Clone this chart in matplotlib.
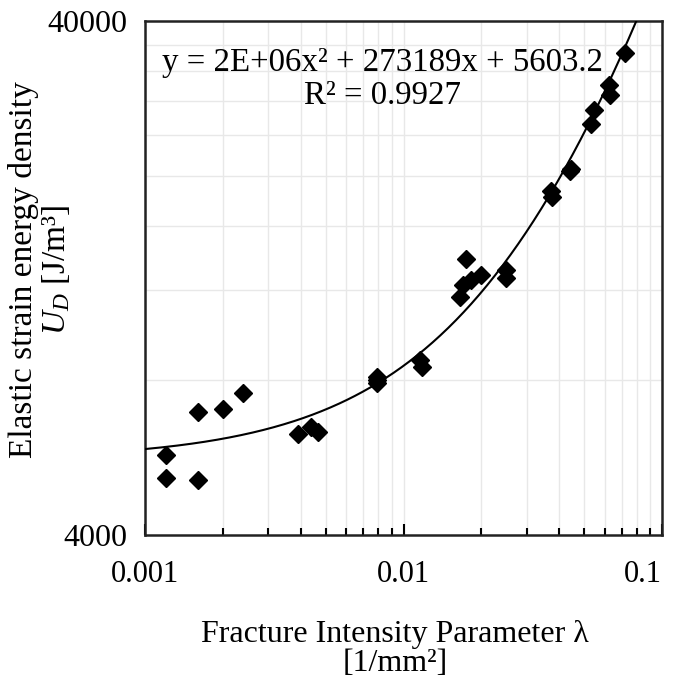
import numpy as np
import matplotlib
matplotlib.use("Agg")
import matplotlib.pyplot as plt
from matplotlib.ticker import FixedLocator, FixedFormatter, NullFormatter

plt.rcParams['font.family'] = ['Liberation Serif', 'DejaVu Serif']
plt.rcParams['mathtext.fontset'] = 'custom'
plt.rcParams['mathtext.rm'] = 'Liberation Serif'
plt.rcParams['mathtext.it'] = 'Liberation Serif:italic'

# Data
lam = [0.00121, 0.00121, 0.00160, 0.00160, 0.00200, 0.00240,
       0.00389, 0.00438, 0.00465, 0.00789, 0.00789, 0.00790,
       0.0116, 0.0118, 0.0165, 0.0170, 0.0175, 0.0183, 0.0200,
       0.0249, 0.0250, 0.0372, 0.0375, 0.0440, 0.0445,
       0.0530, 0.0546, 0.0624, 0.0628, 0.0722]
ud = [5725, 5155, 5115, 6950, 7020, 7545,
      6280, 6497, 6352, 8120, 7900, 8010,
      8780, 8500, 11630, 12270, 13760, 12520, 12810,
      13100, 12630, 18650, 18200, 20440, 20600,
      25270, 26840, 30050, 28700, 34650]

# Polynomial trendline coefficients (from chart label)
coef_a = 2.0e6
coef_b = 273189
coef_c = 5603.2

x_ticks = [0.001, 0.01, 0.1]
x_ticklabels = ["0.001", "0.01", "0.1"]
y_ticks = [4000, 40000]
y_ticklabels = ["4000", "40000"]
y_grid = [8000, 12000, 16000, 20000, 24000, 28000, 32000, 36000]

W = 685
fig = plt.figure(figsize=(6.85, 6.85), dpi=100)
ax = fig.add_axes([145/W, 1-535/W, (662-145)/W, (535-21)/W])
ax.set_xscale('log')
ax.set_yscale('log')
ax.set_xlim(0.001, 0.1)
ax.set_ylim(4000, 40000)

xc = np.logspace(-3, -1, 400)
yc = coef_a*xc**2 + coef_b*xc + coef_c
ax.plot(xc, yc, color='black', lw=1.5, zorder=3)
ax.plot(lam, ud, linestyle='none', marker='D', ms=9, color='black', zorder=4)

ax.xaxis.set_major_locator(FixedLocator(x_ticks))
ax.xaxis.set_major_formatter(FixedFormatter(x_ticklabels))
ax.xaxis.set_minor_formatter(NullFormatter())
ax.yaxis.set_major_locator(FixedLocator(y_ticks))
ax.yaxis.set_major_formatter(FixedFormatter(y_ticklabels))
ax.yaxis.set_minor_locator(FixedLocator(y_grid))
ax.yaxis.set_minor_formatter(NullFormatter())

ax.tick_params(axis='x', which='major', direction='in', length=8, width=1.5, labelsize=22, pad=18)
ax.tick_params(axis='x', which='minor', direction='in', length=5, width=1.5)
ax.tick_params(axis='y', which='both', length=0, labelsize=23, pad=13)

# Last x label sits inside the figure like in the reference
fig.canvas.draw()
xlabels = ax.get_xticklabels()
xlabels[-1].set_horizontalalignment('right')
xlabels[-1].set_x(0.1)

ax.grid(True, which='both', axis='x', color='#e8e8e8', lw=1)
ax.grid(True, which='minor', axis='y', color='#e8e8e8', lw=1)
ax.set_axisbelow(True)
for s in ax.spines.values():
    s.set_linewidth(1.8)
    s.set_color('#222222')

fig.text(395/W, 1-649/W, "Fracture Intensity Parameter λ\n[1/mm²]", fontsize=23,
         ha='center', va='center', linespacing=1.0, multialignment='center')
fig.text(40/W, 1-270/W, "Elastic strain energy density\n$U_D$ [J/m³]", fontsize=24,
         rotation=90, ha='center', va='center', linespacing=1.05, multialignment='center')

ax.text((383-145)/517, (535-79)/514, "y = 2E+06x² + 273189x + 5603.2\nR² = 0.9927",
        transform=ax.transAxes, ha='center', va='center', fontsize=23.7,
        linespacing=1.1, multialignment='center')

fig.savefig("out.png", dpi=100)
